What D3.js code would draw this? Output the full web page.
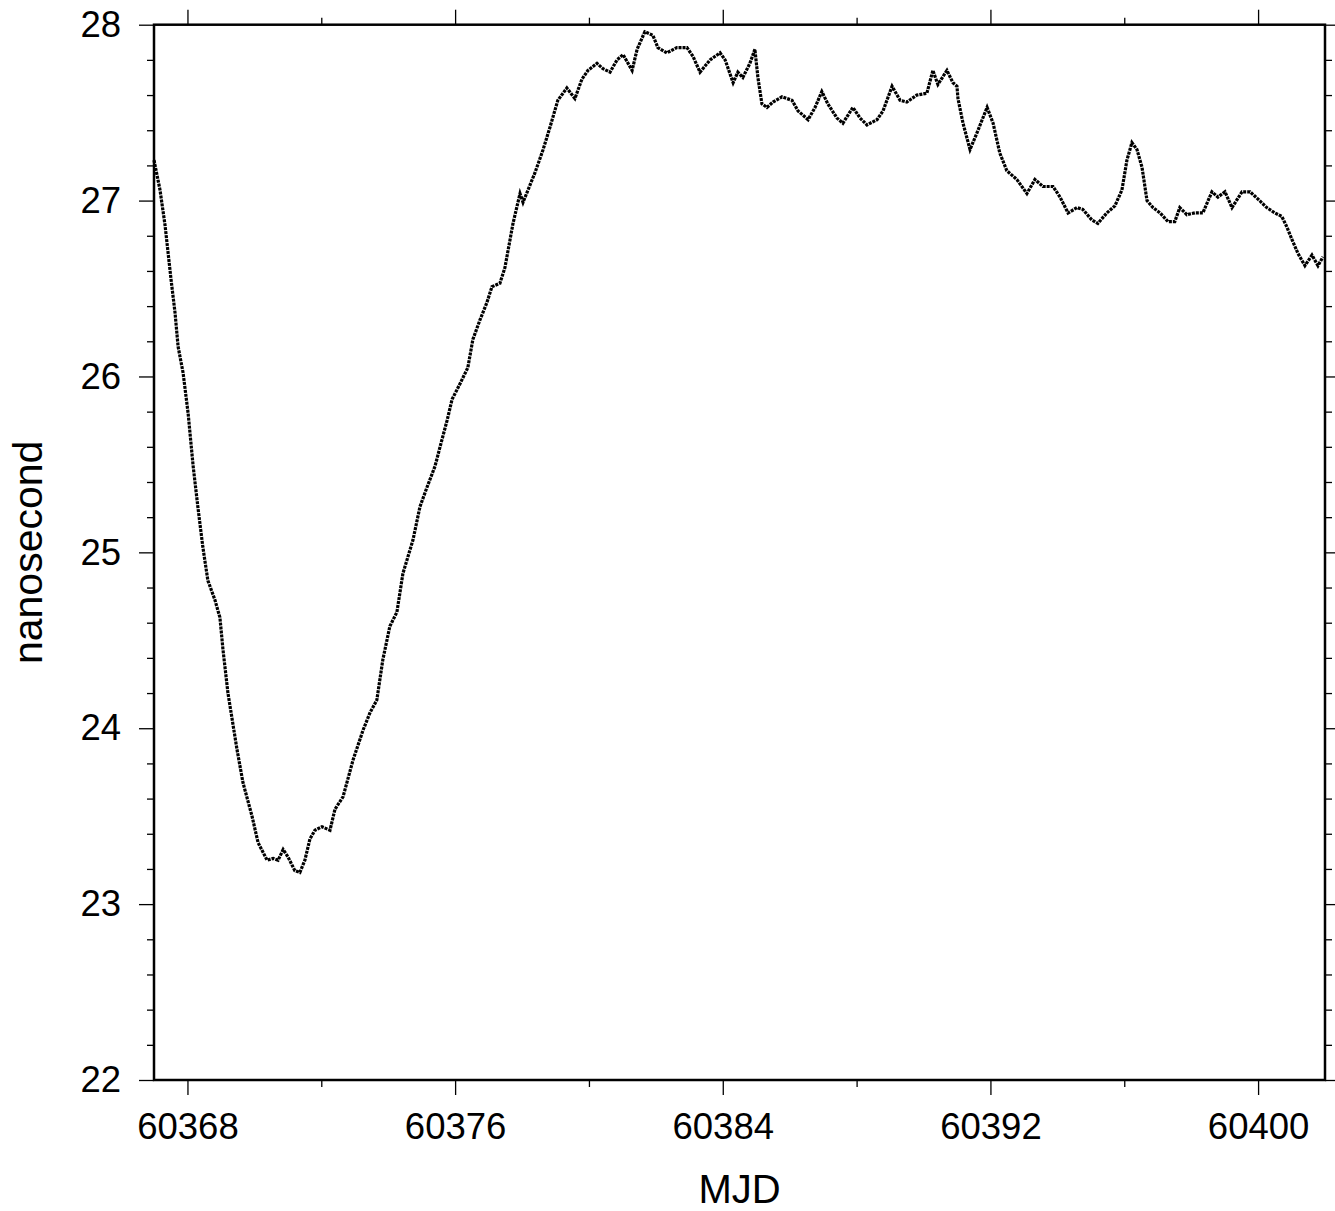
<!DOCTYPE html>
<html>
<head>
<meta charset="utf-8">
<script src="https://cdn.jsdelivr.net/npm/d3@7"></script>
<style>
  body { margin: 0; background: #fff; }
  svg text { font-family: "Liberation Sans", Arial, Helvetica, sans-serif; fill: #000; }
</style>
</head>
<body>
<svg id="chart" width="1335" height="1211"></svg>
<script>
// MJD samples
const mjd = [
  60367.00, 60367.18, 60367.33, 60367.51, 60367.63, 60367.72, 60367.87, 60368.02, 60368.17, 60368.31,
  60368.46, 60368.61, 60368.82, 60368.97, 60369.06, 60369.21, 60369.48, 60369.66, 60369.93, 60370.11,
  60370.38, 60370.56, 60370.71, 60370.86, 60371.00, 60371.21, 60371.36, 60371.51, 60371.66, 60371.81,
  60372.02, 60372.26, 60372.41, 60372.65, 60372.95, 60373.25, 60373.46, 60373.66, 60373.84, 60374.05,
  60374.26, 60374.44, 60374.74, 60374.95, 60375.16, 60375.40, 60375.55, 60375.76, 60375.91, 60376.15,
  60376.38, 60376.53, 60376.74, 60376.95, 60377.10, 60377.34, 60377.49, 60377.73, 60377.94, 60378.03,
  60378.39, 60378.63, 60378.84, 60379.07, 60379.34, 60379.58, 60379.79, 60379.97, 60380.24, 60380.42,
  60380.63, 60380.84, 60381.02, 60381.29, 60381.44, 60381.67, 60381.91, 60382.06, 60382.33, 60382.63,
  60382.93, 60383.11, 60383.32, 60383.62, 60383.92, 60384.07, 60384.31, 60384.45, 60384.60, 60384.81,
  60384.96, 60385.05, 60385.17, 60385.32, 60385.50, 60385.77, 60386.07, 60386.25, 60386.55, 60386.76,
  60386.96, 60387.14, 60387.41, 60387.59, 60387.89, 60388.10, 60388.31, 60388.61, 60388.79, 60389.06,
  60389.30, 60389.50, 60389.80, 60390.10, 60390.28, 60390.43, 60390.70, 60390.88, 60391.00, 60391.03,
  60391.18, 60391.39, 60391.63, 60391.90, 60392.08, 60392.28, 60392.49, 60392.79, 60393.09, 60393.33,
  60393.57, 60393.87, 60394.08, 60394.32, 60394.59, 60394.76, 60395.03, 60395.21, 60395.48, 60395.72,
  60395.93, 60396.08, 60396.23, 60396.38, 60396.53, 60396.68, 60396.86, 60397.07, 60397.31, 60397.51,
  60397.66, 60397.87, 60398.11, 60398.35, 60398.62, 60398.80, 60399.01, 60399.22, 60399.52, 60399.76,
  60399.99, 60400.26, 60400.50, 60400.71, 60400.86, 60401.01, 60401.19, 60401.40, 60401.61, 60401.79,
  60401.94
];

// offset in nanoseconds at each sample
const nanosec = [
  27.23, 27.06, 26.86, 26.55, 26.36, 26.17, 26.02, 25.79, 25.49, 25.26,
  25.03, 24.84, 24.73, 24.63, 24.45, 24.20, 23.88, 23.69, 23.50, 23.35,
  23.25, 23.26, 23.25, 23.31, 23.27, 23.19, 23.18, 23.25, 23.37, 23.42,
  23.44, 23.42, 23.54, 23.61, 23.82, 23.99, 24.09, 24.16, 24.39, 24.58,
  24.66, 24.88, 25.07, 25.26, 25.37, 25.49, 25.60, 25.75, 25.87, 25.96,
  26.05, 26.21, 26.32, 26.42, 26.51, 26.53, 26.62, 26.87, 27.04, 26.99,
  27.16, 27.29, 27.42, 27.57, 27.64, 27.58, 27.69, 27.74, 27.78, 27.75,
  27.73, 27.80, 27.83, 27.74, 27.86, 27.96, 27.94, 27.87, 27.84, 27.87,
  27.87, 27.82, 27.73, 27.80, 27.84, 27.80, 27.67, 27.73, 27.70, 27.78,
  27.86, 27.70, 27.55, 27.53, 27.56, 27.59, 27.57, 27.51, 27.46, 27.53,
  27.62, 27.55, 27.47, 27.44, 27.53, 27.47, 27.43, 27.46, 27.51, 27.65,
  27.57, 27.56, 27.60, 27.61, 27.74, 27.66, 27.74, 27.67, 27.65, 27.58,
  27.44, 27.29, 27.40, 27.53, 27.44, 27.27, 27.17, 27.12, 27.04, 27.12,
  27.08, 27.08, 27.02, 26.93, 26.96, 26.95, 26.89, 26.87, 26.93, 26.97,
  27.06, 27.23, 27.33, 27.29, 27.19, 27.00, 26.96, 26.93, 26.88, 26.88,
  26.96, 26.92, 26.93, 26.93, 27.05, 27.02, 27.05, 26.96, 27.05, 27.05,
  27.01, 26.96, 26.93, 26.91, 26.85, 26.78, 26.70, 26.63, 26.69, 26.63,
  26.68
];

const xMajor = [60368, 60376, 60384, 60392, 60400];
const xMinor = [60372, 60380, 60388, 60396];
const yMajor = [22, 23, 24, 25, 26, 27, 28];
const yMinor = [22.2, 22.4, 22.6, 22.8, 23.2, 23.4, 23.6, 23.8, 24.2, 24.4, 24.6, 24.8,
                25.2, 25.4, 25.6, 25.8, 26.2, 26.4, 26.6, 26.8, 27.2, 27.4, 27.6, 27.8];

const svg = d3.select("#chart");
const plotL = 154, plotR = 1325, plotT = 24.7, plotB = 1080;

const x = d3.scaleLinear().domain([60367, 60402]).range([plotL, plotR]);
const y = d3.scaleLinear().domain([22, 28]).range([plotB, plotT]);

// axes: major + minor ticks on all four sides, labels only bottom / left
function drawAxis(axisFn, scale, transform, major, minor, labels, pad) {
  const gMin = svg.append("g").attr("transform", transform)
    .call(axisFn(scale).tickValues(minor).tickSize(7).tickFormat(""));
  const gMaj = svg.append("g").attr("transform", transform)
    .call(axisFn(scale).tickValues(major).tickSize(15).tickPadding(pad)
      .tickFormat(labels ? d3.format("d") : ""));
  [gMin, gMaj].forEach(g => {
    g.select(".domain").remove();
    g.selectAll(".tick line").attr("stroke", "#000").attr("stroke-width", 1.3);
  });
  gMaj.selectAll("text").style("font-size", "36.5px");
  return gMaj;
}

drawAxis(d3.axisBottom, x, `translate(0,${plotB})`, xMajor, xMinor, true, 18);
drawAxis(d3.axisTop, x, `translate(0,${plotT})`, xMajor, xMinor, false, 0);
drawAxis(d3.axisLeft, y, `translate(${plotL},0)`, yMajor, yMinor, true, 18);
drawAxis(d3.axisRight, y, `translate(${plotR},0)`, yMajor, yMinor, false, 0);

// frame
svg.append("rect")
  .attr("x", plotL).attr("y", plotT)
  .attr("width", plotR - plotL).attr("height", plotB - plotT)
  .attr("fill", "none").attr("stroke", "#000").attr("stroke-width", 2.5);

// the trace
const pts = mjd.map((d, i) => [d, nanosec[i]]);
svg.append("path")
  .datum(pts)
  .attr("fill", "none")
  .attr("stroke", "#000")
  .attr("stroke-width", 3.2)
  .attr("stroke-dasharray", "3,1")
  .attr("d", d3.line().x(d => x(d[0])).y(d => y(d[1])));

// titles
svg.append("text")
  .attr("x", (plotL + plotR) / 2).attr("y", 1203)
  .attr("text-anchor", "middle")
  .style("font-size", "40px")
  .text("MJD");

svg.append("text")
  .attr("transform", `translate(42,${(plotT + plotB) / 2}) rotate(-90)`)
  .attr("text-anchor", "middle")
  .style("font-size", "41px")
  .text("nanosecond");
</script>
</body>
</html>
